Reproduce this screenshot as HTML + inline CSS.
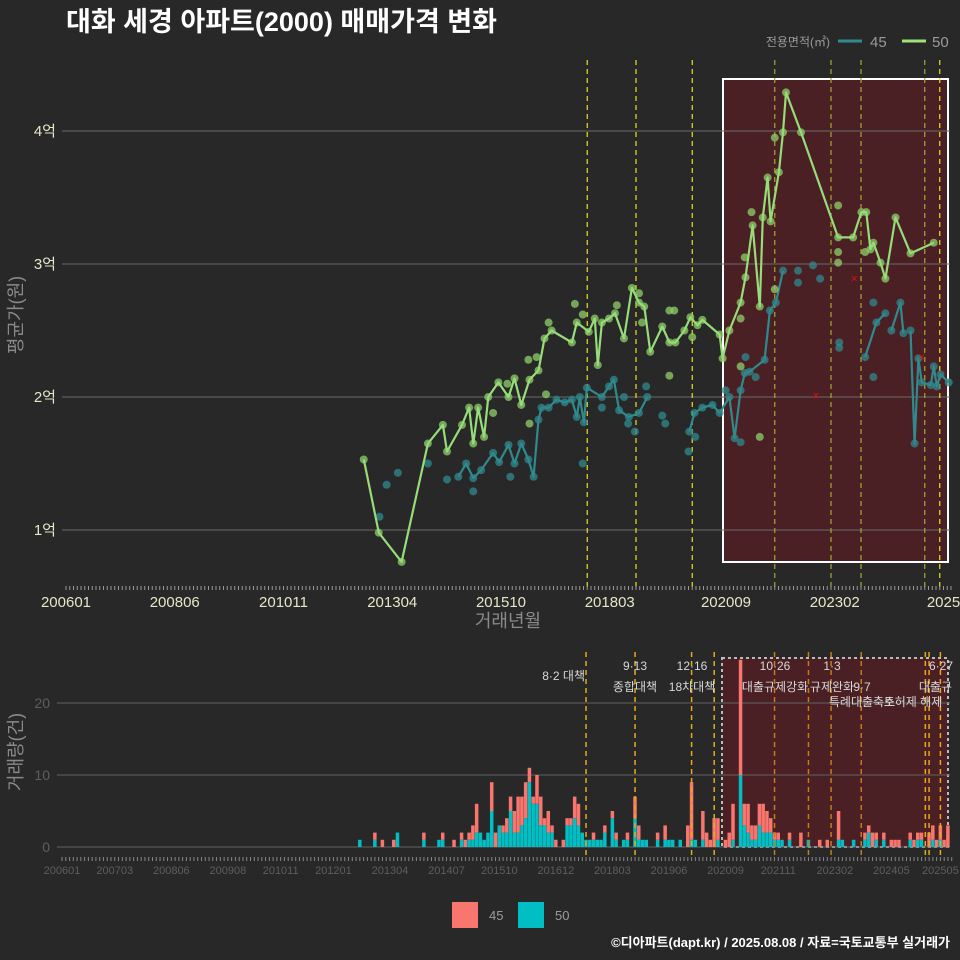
<!DOCTYPE html>
<html><head><meta charset="utf-8">
<style>
html,body{margin:0;padding:0;background:#282829;}
svg{display:block;font-family:"Liberation Sans","Noto Sans CJK KR",sans-serif;}
</style></head>
<body>
<svg id="chart" width="960" height="960" viewBox="0 0 960 960" xmlns="http://www.w3.org/2000/svg">
<rect width="960" height="960" fill="#282829"/>
<text x="66" y="31" fill="#ffffff" font-size="27" font-weight="bold">대화 세경 아파트(2000) 매매가격 변화</text>
<g>
<text x="830" y="46" fill="#9a9a9a" font-size="12" text-anchor="end">전용면적(㎡)</text>
<line x1="838" y1="41" x2="862" y2="41" stroke="#2e8b8e" stroke-width="3"/>
<text x="870" y="47" fill="#9a9a9a" font-size="15">45</text>
<line x1="902" y1="41" x2="926" y2="41" stroke="#9ee27a" stroke-width="3"/>
<text x="932" y="47" fill="#9a9a9a" font-size="15">50</text>
</g>
<g id="topchart"></g>
<g id="bottomchart"></g>
<g>
<rect x="452" y="902" width="26" height="26" fill="#f8766d"/>
<text x="489" y="920" fill="#9a9a9a" font-size="13">45</text>
<rect x="518" y="902" width="26" height="26" fill="#00bfc4"/>
<text x="555" y="920" fill="#9a9a9a" font-size="13">50</text>
</g>
<text x="950" y="947" fill="#ffffff" font-size="13" font-weight="bold" text-anchor="end">©디아파트(dapt.kr) / 2025.08.08 / 자료=국토교통부 실거래가</text>
</svg>
<script>
const line50M=[79.4,83.4,89.5,96.5,100.5,101.6,105.6,107.5,108.6,109.9,111.5,112.6,115.3,118,119.6,121.4,123.6,126,127.6,129.5,134.9,136.2,139.4,141,141.8,142.9,144.8,146.4,148.8,150.9,152.8,154.2,155.8,159,160.9,162.5,164.9,166.5,168.4,169.7,174.3,175.1,176.9,179.9,181.2,183.1,185,185.8,187.1,187.9,190.1,191.2,192,196,205.9,209.9,212.1,213.4,214.5,215.3,217.2,218.5,221.2,225.2,231.4];
const line50V=[1.53,0.98,0.76,1.65,1.79,1.59,1.79,1.92,1.65,1.92,1.70,2.00,2.11,2.00,2.14,1.94,2.13,2.20,2.44,2.50,2.41,2.56,2.49,2.59,2.24,2.56,2.59,2.63,2.44,2.82,2.71,2.68,2.34,2.53,2.41,2.41,2.50,2.60,2.54,2.58,2.47,2.29,2.50,2.71,2.90,3.29,2.68,3.35,3.65,3.32,3.69,3.99,4.29,3.99,3.20,3.20,3.39,3.39,3.11,3.16,3.01,2.89,3.35,3.08,3.16];
const line45M=[104.6,106.7,108.6,110.7,113.9,115.5,118,119.6,121.4,123.3,124.7,126,126.8,128.7,130.8,133,134.9,136.2,137,138.1,138.9,142.9,144.8,146.1,147.5,150.1,152.8,155,null,166.2,167.6,169.7,172.4,174.3,176.9,178.3,179.9,181,182.3,186.3,187.7,189.3,191.2,null,213.1,216.1,218.5,null,220.1,222.5,223.3,null,225.2,226.3,227.3,228.2,230.6,231.4,232.2,233.2,235.4];
const line45V=[1.40,1.50,1.39,1.45,1.58,1.51,1.64,1.50,1.65,1.53,1.40,1.83,1.92,1.92,1.98,1.96,1.98,1.85,2.00,1.81,2.07,2.00,2.08,2.13,1.90,1.85,1.88,2.00,null,1.74,1.88,1.92,1.94,1.88,2.00,1.69,2.05,2.18,2.19,2.28,2.65,2.71,2.95,null,2.30,2.56,2.63,null,2.50,2.71,2.48,null,2.50,1.65,2.29,2.11,2.09,2.23,2.08,2.17,2.11];
const dot50M=[135.7,160.9,162.2,160.9,123.6,113.9,123.3,128.7,137.8,146.9,152.8,153.6,167,125.5,189,179.9,179.9,181,182.8,185,189,205.9,205.9,205.9,213.1,117.7,128];
const dot50V=[2.70,2.65,2.65,2.16,1.80,1.88,2.28,2.56,2.62,2.69,2.78,2.56,2.45,2.30,3.95,2.23,2.59,3.05,3.39,1.70,2.81,3.44,3.09,3.01,3.09,2.10,2.02];
const dot45M=[85.5,88.5,83.6,96.5,101.6,108.6,118.5,137.8,142.9,148.8,149.9,151.7,154.7,159,159.8,166,167.8,195.2,195.2,199.2,201.1,206.2,206.2,215.3,215.3,179.9,181.2,183.9,175.9];
const dot45V=[1.34,1.43,1.10,1.50,1.38,1.29,1.40,1.50,1.92,2.00,1.80,1.74,2.08,1.86,1.80,1.59,1.70,2.95,2.86,2.99,2.89,2.41,2.37,2.71,2.15,1.66,2.30,2.15,2.05];
const cancelM=[200,210.2,228.2];
const cancelV=[2.01,2.89,2.30];
const yTicks=[1,2,3,4];
const yTickLabels=["1억","2억","3억","4억"];
const xTickM=[0,29,58,87,116,145,176,205,234];
const xTickLabels=["200601","200806","201011","201304","201510","201803","202009","202302","2025"];
const policyTopM=[139,152,167,189,204,212,229,233];
const volM=[79,83,85,88,89,96,100,101,104,106,107,108,109,110,111,112,113,114,115,116,117,118,119,120,121,122,123,124,125,126,127,128,129,130,131,133,134,135,136,137,138,139,140,141,142,143,144,146,147,149,150,152,153,154,155,158,160,161,162,164,166,167,168,170,171,172,173,174,176,177,178,180,181,182,183,184,185,186,187,188,189,190,191,193,196,198,201,203,206,207,210,213,214,215,216,218,220,221,222,225,226,227,228,230,231,232,233,234,235];
const vol50=[1,1,0,0,2,1,1,1,0,1,0,1,1,2,2,1,2,5,0,3,2,2,5,2,2,3,4,9,6,6,3,3,2,2,0,0,3,3,4,3,2,1,1,1,1,1,2,4,1,1,1,4,1,1,1,1,1,1,1,1,0,1,1,1,0,0,0,1,0,0,1,10,3,2,1,1,3,2,2,2,1,1,1,1,0,1,0,0,1,1,1,1,2,0,1,1,0,0,0,1,0,1,1,0,1,0,1,0,0];
const vol45=[0,1,1,1,0,1,0,1,1,1,1,1,2,4,0,0,0,4,2,0,1,2,2,3,5,4,5,2,1,4,4,1,3,1,1,1,1,1,3,3,0,0,0,1,0,0,1,1,1,0,1,3,2,0,0,1,2,0,0,0,3,8,0,4,2,1,4,3,1,2,5,16,3,4,2,2,3,4,3,2,1,1,0,1,2,0,1,1,4,0,0,1,1,2,1,1,1,1,1,1,1,1,1,2,2,1,2,1,3];
const volTicks=[0,10,20];
const bTickM=[0,14,29,44,58,72,87,102,116,131,146,161,176,190,205,220,233];
const bTickLabels=["200601","200703","200806","200908","201011","201201","201304","201407","201510","201612","201803","201906","202009","202111","202302","202405","202505"];
const policyBotM=[139,152,167,173,189,198,204,212,229,230,233];
const annText=[["8·2 대책",585,680,"end"],["9·13",635,670,"middle"],["종합대책",635,691,"middle"],["12·16",692,670,"middle"],["18차대책",692,691,"middle"],["10·26",775,670,"middle"],["대출규제강화",775,691,"middle"],["1·3",832,670,"middle"],["규제완화",832,691,"middle"],["9·7",862,691,"middle"],["특례대출축소",862,706,"middle"],["토허제 해제",913,706,"middle"],["6·27",941,670,"middle"],["대출규",952,691,"end"]];

const NS="http://www.w3.org/2000/svg";
function mk(tag,attrs,parent){const e=document.createElementNS(NS,tag);for(const k in attrs)e.setAttribute(k,attrs[k]);parent.appendChild(e);return e;}
const xt=m=>66+m*3.75;
const yt=v=>530-(v-1)*133;
const xb=m=>62+m*3.77;
const yb=c=>847-c*7.2;

const topG=document.getElementById('topchart');


let sh=mk('rect',{x:723,y:79,width:225,height:483,fill:'#4a2024',stroke:'#ffffff','stroke-width':2},topG);


yTicks.forEach((v,i)=>{
  let g=mk('line',{x1:62,x2:950,y1:yt(v),y2:yt(v),stroke:'#6a6a6a','stroke-width':1},topG);
  
  
  let t=mk('text',{x:56,y:yt(v)+5,fill:'#e6e6c8','font-size':15,'text-anchor':'end'},topG);
  t.textContent=yTickLabels[i];
  
  
});
policyTopM.forEach((m,i)=>{
  let l=mk('line',{x1:xt(m),x2:xt(m),y1:60,y2:588,stroke:(i>=3&&i<=6)?'#a8a830':'#e8e020','stroke-width':1.2,'stroke-dasharray':'5,4'},topG);
  
  
});
function drawLine(M,V,color,name){
  let d='',pen=false;
  for(let i=0;i<M.length;i++){
    if(M[i]===null){pen=false;continue;}
    d+=(pen?'L':'M')+xt(M[i]).toFixed(1)+','+yt(V[i]).toFixed(1);pen=true;
  }
  let p=mk('path',{d:d,fill:'none',stroke:color,'stroke-width':2.2,'stroke-linejoin':'round'},topG);
  
  
}
function drawDots(M,V,color,name){
  for(let i=0;i<M.length;i++){if(M[i]===null)continue;
    let c=mk('circle',{cx:xt(M[i]),cy:yt(V[i]),r:4,fill:color,'fill-opacity':0.75},topG);
    
    
  }
}
drawDots(dot45M,dot45V,'#2f8a8e','point-45');
drawDots(line45M,line45V,'#2f8a8e','point-45');
drawLine(line45M,line45V,'#2f8a8e','line-45');
drawDots(dot50M,dot50V,'#8fcf6a','point-50');
drawDots(line50M,line50V,'#8fcf6a','point-50');
drawLine(line50M,line50V,'#96dc78','line-50');
cancelM.forEach((m,i)=>{
  let t=mk('text',{x:xt(m),y:yt(cancelV[i])+4,fill:'#e01010','font-size':12,'text-anchor':'middle'},topG);
  t.textContent='×';
  
  
});
for(let m=0;m<=236;m++){
  let k=mk('line',{x1:xt(m),x2:xt(m),y1:586,y2:590,stroke:'#999','stroke-width':1},topG);
  
  
}
xTickM.forEach((m,i)=>{
  let t=mk('text',{x:xt(m),y:607,fill:'#e6e6c8','font-size':15,'text-anchor':'middle'},topG);
  t.textContent=xTickLabels[i];
  
  
});
let xtit=mk('text',{x:508,y:627,fill:'#8a8a8a','font-size':18,'text-anchor':'middle'},topG);
xtit.textContent='거래년월';


let ytit=mk('text',{x:0,y:0,fill:'#8a8a8a','font-size':18,'text-anchor':'middle',transform:'translate(22,315) rotate(-90)'},topG);
ytit.textContent='평균가(원)';



const botG=document.getElementById('bottomchart');


let bs=mk('rect',{x:722,y:658,width:226,height:189,fill:'#4a2024',stroke:'#bbbbbb','stroke-width':2,'stroke-dasharray':'3,3'},botG);


volTicks.forEach(v=>{
  let g=mk('line',{x1:57,x2:950,y1:yb(v),y2:yb(v),stroke:'#626262','stroke-width':1},botG);
  
  
  let t=mk('text',{x:50,y:yb(v)+5,fill:'#5e5e5e','font-size':14,'text-anchor':'end'},botG);
  t.textContent=String(v);
  
  
});
volM.forEach((m,i)=>{
  const x=xb(m)-1.8;
  if(vol50[i]>0){
    let r=mk('rect',{x:x,y:yb(vol50[i]),width:3.5,height:vol50[i]*7.2,fill:'#00bfc4'},botG);
    
    
  }
  if(vol45[i]>0){
    let r=mk('rect',{x:x,y:yb(vol50[i]+vol45[i]),width:3.5,height:vol45[i]*7.2,fill:'#f8766d'},botG);
    
    
  }
});
policyBotM.forEach((m,i)=>{
  let l=mk('line',{x1:xb(m),x2:xb(m),y1:652,y2:857,stroke:(i>=4&&i<=7)?'#c87a1a':'#e8a818','stroke-width':1.5,'stroke-dasharray':'5,4'},botG);
  
  
});
annText.forEach(a=>{
  let t=mk('text',{x:a[1],y:a[2],fill:'#d8d8d8','font-size':12,'text-anchor':a[3]},botG);
  t.textContent=a[0];
  
  
});
for(let m=0;m<=236;m++){
  let k=mk('line',{x1:xb(m),x2:xb(m),y1:857,y2:861,stroke:'#888','stroke-width':1},botG);
  
  
}
bTickM.forEach((m,i)=>{
  let t=mk('text',{x:xb(m),y:874,fill:'#5e5e5e','font-size':11,'text-anchor':'middle'},botG);
  t.textContent=bTickLabels[i];
  
  
});
let vt=mk('text',{x:0,y:0,fill:'#8a8a8a','font-size':18,'text-anchor':'middle',transform:'translate(22,752) rotate(-90)'},botG);
vt.textContent='거래량(건)';


</script>
</body></html>
